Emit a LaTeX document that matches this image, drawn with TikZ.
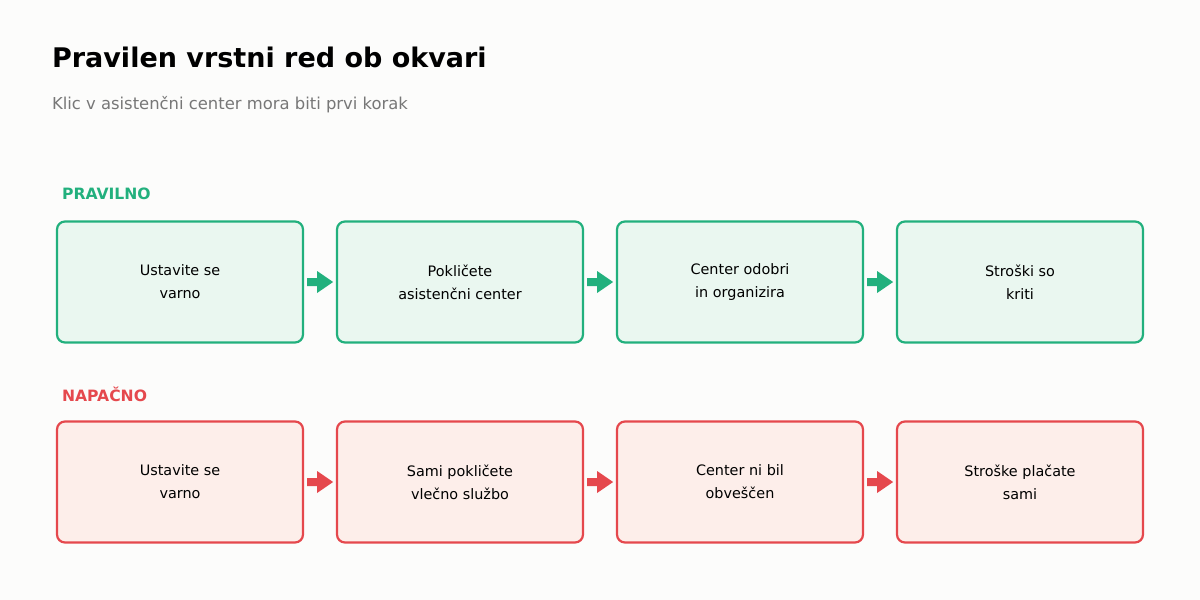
\documentclass[tikz,border=0pt]{standalone}
\usepackage{fontspec}
\setmainfont{DejaVu Sans}
\usetikzlibrary{positioning,calc}
\definecolor{bg}{HTML}{FCFCFB}
\definecolor{okline}{HTML}{22B07D}
\definecolor{okfill}{HTML}{EAF7F0}
\definecolor{badline}{HTML}{E5484D}
\definecolor{badfill}{HTML}{FDEEEA}
\definecolor{subgray}{HTML}{777777}
\tikzset{
  flowbox/.style={draw, line width=1.1pt, rounded corners=4pt, minimum width=123pt, minimum height=60.5pt, align=center, font=\fontsize{7.2}{11.5}\selectfont},
  okstep/.style={flowbox, draw=okline, fill=okfill},
  badstep/.style={flowbox, draw=badline, fill=badfill},
  rowlabel/.style={anchor=west, font=\fontsize{7.8}{10}\selectfont\bfseries}
}
\newcommand{\flowarrow}[3]{%
  \fill[#3] ($(#1.east)+(3,0)$) ++(0,-4) -- ++(10,0) -- ++(0,-7) -- ++(16,11) -- ++(-16,11) -- ++(0,-7) -- ++(-10,0) -- cycle;}
\begin{document}
\begin{tikzpicture}[x=0.5pt,y=-0.5pt]
\fill[bg] (0,0) rectangle (1200,600);
\useasboundingbox (0,0) rectangle (1200,600);
\node[anchor=west, font=\fontsize{13.5}{16}\selectfont\bfseries] (title) at (45,57) {Pravilen vrstni red ob okvari};
\node[anchor=west, text=subgray, font=\fontsize{8.2}{10}\selectfont] (subtitle) at (45,105) {Klic v asistenčni center mora biti prvi korak};
% pravilno
\node[rowlabel, text=okline] (oklabel) at (55,194) {PRAVILNO};
\node[okstep] (ok1) at (180,282) {Ustavite se\\varno};
\node[okstep] (ok2) at (460,282) {Pokličete\\asistenčni center};
\node[okstep] (ok3) at (740,282) {Center odobri\\in organizira};
\node[okstep] (ok4) at (1020,282) {Stroški so\\kriti};
\flowarrow{ok1}{ok2}{okline}
\flowarrow{ok2}{ok3}{okline}
\flowarrow{ok3}{ok4}{okline}
% napacno
\node[rowlabel, text=badline] (badlabel) at (55,394) {NAPAČNO};
\node[badstep] (bad1) at (180,482) {Ustavite se\\varno};
\node[badstep] (bad2) at (460,482) {Sami pokličete\\vlečno službo};
\node[badstep] (bad3) at (740,482) {Center ni bil\\obveščen};
\node[badstep] (bad4) at (1020,482) {Stroške plačate\\sami};
\flowarrow{bad1}{bad2}{badline}
\flowarrow{bad2}{bad3}{badline}
\flowarrow{bad3}{bad4}{badline}
\end{tikzpicture}
\end{document}
